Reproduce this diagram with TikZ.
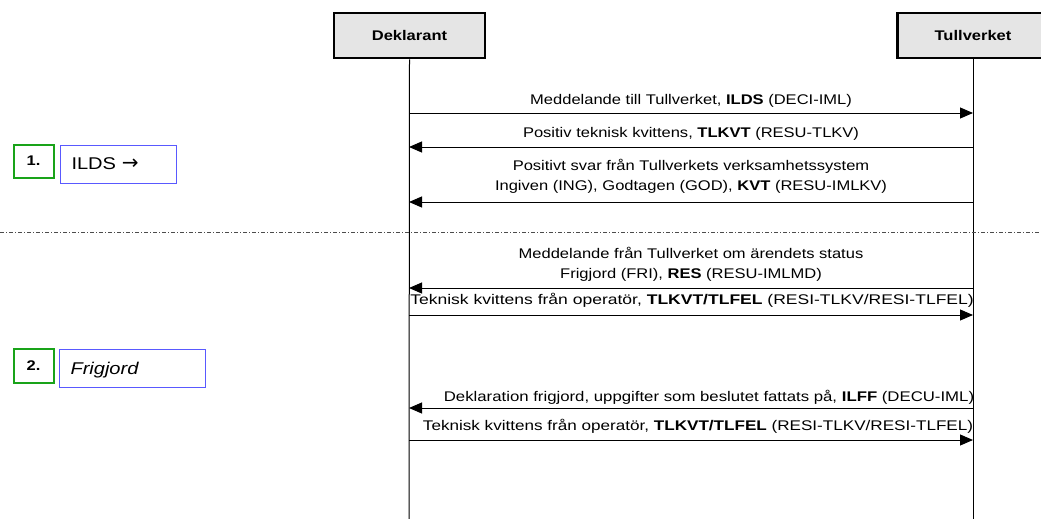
\documentclass[tikz,border=0pt]{standalone}
\usepackage{fontspec}
\setmainfont[FakeStretch=1.18]{Liberation Sans}
\newfontfamily\arrowfont{DejaVu Sans}
\usetikzlibrary{arrows.meta}
\begin{document}
\begin{tikzpicture}[x=1pt,y=-1pt,
  actor/.style={draw=black,line width=2.6pt,fill=black!10,minimum width=151pt,minimum height=45pt,inner sep=0pt,font=\fontsize{14}{16}\selectfont\bfseries},
  life/.style={line width=1pt},
  msg/.style={line width=1pt,-{Triangle[length=13pt,width=11pt]}},
  lbl/.style={font=\fontsize{14}{20}\selectfont,align=center,inner sep=0pt},
  numbox/.style={draw=green!60!black!90,line width=2pt,inner sep=0pt,font=\fontsize{14}{16}\selectfont\bfseries},
  stepbox/.style={draw=blue!65,line width=1pt,inner sep=0pt,font=\fontsize{17}{18}\selectfont,anchor=west,text depth=0pt}
]
\path[use as bounding box] (0,0) rectangle (1041,519);
\begin{scope}
\clip (0,0) rectangle (1041,519);
% actors
\node[actor] (dek) at (409.5,35.5) {Deklarant};
\node[actor] (tul) at (973,35.5) {Tullverket};
\coordinate (dekB) at (409,519);
\coordinate (tulB) at (973,519);
\draw[life] (dek.south) -- (dekB);
\draw[life] (tul.south) -- (tulB);
\end{scope}
% coordinates on lifelines
\foreach \n/\y in {1/113,2/147,3/202,4/288,5/315,6/408,7/440}{
  \coordinate (d\n) at (409,\y);
  \coordinate (t\n) at (973,\y);
}
\draw[msg] (d1) -- (t1);
\draw[msg] (t2) -- (d2);
\draw[msg] (t3) -- (d3);
\draw[msg] (t4) -- (d4);
\draw[msg] (d5) -- (t5);
\draw[msg] (t6) -- (d6);
\draw[msg] (d7) -- (t7);
% labels
\node[lbl] (l1) at (691,101) {Meddelande till Tullverket, \textbf{ILDS} (DECI-IML)};
\node[lbl] (l2) at (691,134) {Positiv teknisk kvittens, \textbf{TLKVT} (RESU-TLKV)};
\node[lbl] (l3) at (691,176) {Positivt svar från Tullverkets verksamhetssystem\\Ingiven (ING), Godtagen (GOD), \textbf{KVT} (RESU-IMLKV)};
\node[lbl] (l4) at (691,264) {Meddelande från Tullverket om ärendets status\\Frigjord (FRI), \textbf{RES} (RESU-IMLMD)};
\node[lbl,xscale=1.06] (l5) at (692,300) {Teknisk kvittens från operatör, \textbf{TLKVT/TLFEL} (RESI-TLKV/RESI-TLFEL)};
\node[lbl,xscale=1.015] (l6) at (709,397) {Deklaration frigjord, uppgifter som beslutet fattats på, \textbf{ILFF} (DECU-IML)};
\node[lbl,xscale=1.035] (l7) at (698,426) {Teknisk kvittens från operatör, \textbf{TLKVT/TLFEL} (RESI-TLKV/RESI-TLFEL)};
% separator
\coordinate (sepL) at (0,232);
\coordinate (sepR) at (1041,232);
\draw[line width=1pt,black!70,dash pattern=on 4pt off 2pt on 1pt off 2pt] (sepL) -- (sepR);
% step boxes
\node[numbox,minimum width=40pt,minimum height=33pt] (n1) at (33.5,161) {1.};
\node[stepbox,minimum width=116pt,minimum height=38pt,text width=104pt] (s1) at (60,164) {\hspace*{5pt}ILDS {\arrowfont\fontsize{20}{20}\selectfont→}};
\node[numbox,minimum width=40pt,minimum height=34pt] (n2) at (33.5,366) {2.};
\node[stepbox,minimum width=146pt,minimum height=38pt,text width=134pt] (s2) at (59,368) {\hspace*{5pt}\itshape Frigjord};
\end{tikzpicture}
\end{document}
